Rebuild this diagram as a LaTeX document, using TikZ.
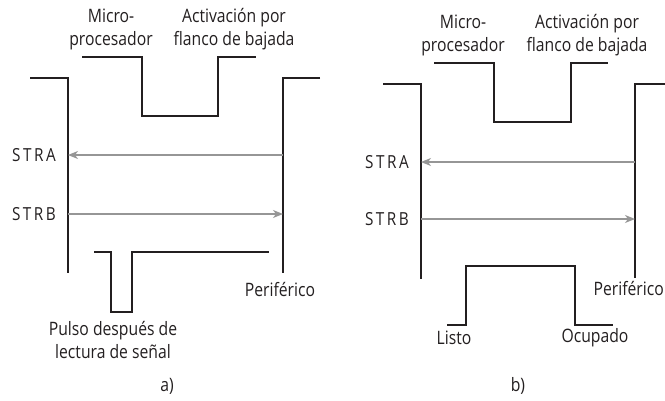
\documentclass[tikz,border=0pt]{standalone}
\usepackage{fontspec}
\setmainfont[FakeStretch=0.85]{Open Sans}
\newfontfamily\spacedfont[FakeStretch=0.85,LetterSpace=14]{Open Sans}
\usetikzlibrary{arrows.meta,positioning}
\definecolor{wavebk}{RGB}{35,31,32}
\definecolor{signalgray}{RGB}{150,150,150}
\tikzset{
  wave/.style={line width=2pt,draw=wavebk,line join=miter},
  strobe/.style={-{Stealth[length=10pt,width=8pt,inset=3pt]},line width=1.4pt,draw=signalgray},
  lbl/.style={font=\fontsize{18.5}{23}\selectfont,align=center,inner sep=0pt,text=wavebk},
  sig/.style={font=\spacedfont\fontsize{18}{20}\selectfont,inner sep=0pt,text=wavebk}
}
\begin{document}
\begin{tikzpicture}[x=1pt,y=-1pt]
  \useasboundingbox (0,0) rectangle (665,400);
  % a) pulso
  \node[lbl] (a_mp) at (111,29) {Micro-\\procesador};
  \node[lbl] (a_act) at (234,29) {Activación por\\flanco de bajada};
  \draw[wave] (82,57) -- (142,57) -- (142,116) -- (218,116) -- (218,57) -- (256,57);
  \draw[wave] (30,78) -- (68,78) -- (68,273);
  \draw[wave] (320,78) -- (283,78) -- (283,273);
  \coordinate (a_ra) at (283,155); \coordinate (a_la) at (68,155);
  \coordinate (a_lb) at (68,214); \coordinate (a_rb) at (283,214);
  \draw[strobe] (a_ra) -- (a_la);
  \draw[strobe] (a_lb) -- (a_rb);
  \node[sig,anchor=east] (a_stra) at (56,155) {STRA};
  \node[sig,anchor=east] (a_strb) at (56,214) {STRB};
  \draw[wave] (94,252) -- (111,252) -- (111,312) -- (132,312) -- (132,252) -- (269,252);
  \node[lbl] (a_per) at (280,289) {Periférico};
  \node[lbl] (a_pulse) at (113,340) {Pulso después de\\lectura de señal};
  \node[lbl] (a_cap) at (167,386) {a)};
  % b) nivel
  \node[lbl] (b_mp) at (463,35) {Micro-\\procesador};
  \node[lbl] (b_act) at (587,35) {Activación por\\flanco de bajada};
  \draw[wave] (434,63) -- (494,63) -- (494,122) -- (571,122) -- (571,63) -- (608,63);
  \draw[wave] (383,84) -- (421,84) -- (421,279);
  \draw[wave] (670,84) -- (635,84) -- (635,278);
  \coordinate (b_ra) at (635,162); \coordinate (b_la) at (421,162);
  \coordinate (b_lb) at (421,219); \coordinate (b_rb) at (635,219);
  \draw[strobe] (b_ra) -- (b_la);
  \draw[strobe] (b_lb) -- (b_rb);
  \node[sig,anchor=east] (b_stra) at (409,162) {STRA};
  \node[sig,anchor=east] (b_strb) at (409,219) {STRB};
  \draw[wave] (447,325) -- (466,325) -- (466,266) -- (575,266) -- (575,325) -- (613,325);
  \node[lbl,anchor=east] (b_per) at (664,288) {Periférico};
  \node[lbl] (b_listo) at (454,338) {Listo};
  \node[lbl] (b_ocup) at (595,338) {Ocupado};
  \node[lbl] (b_cap) at (518,386) {b)};
\end{tikzpicture}
\end{document}
